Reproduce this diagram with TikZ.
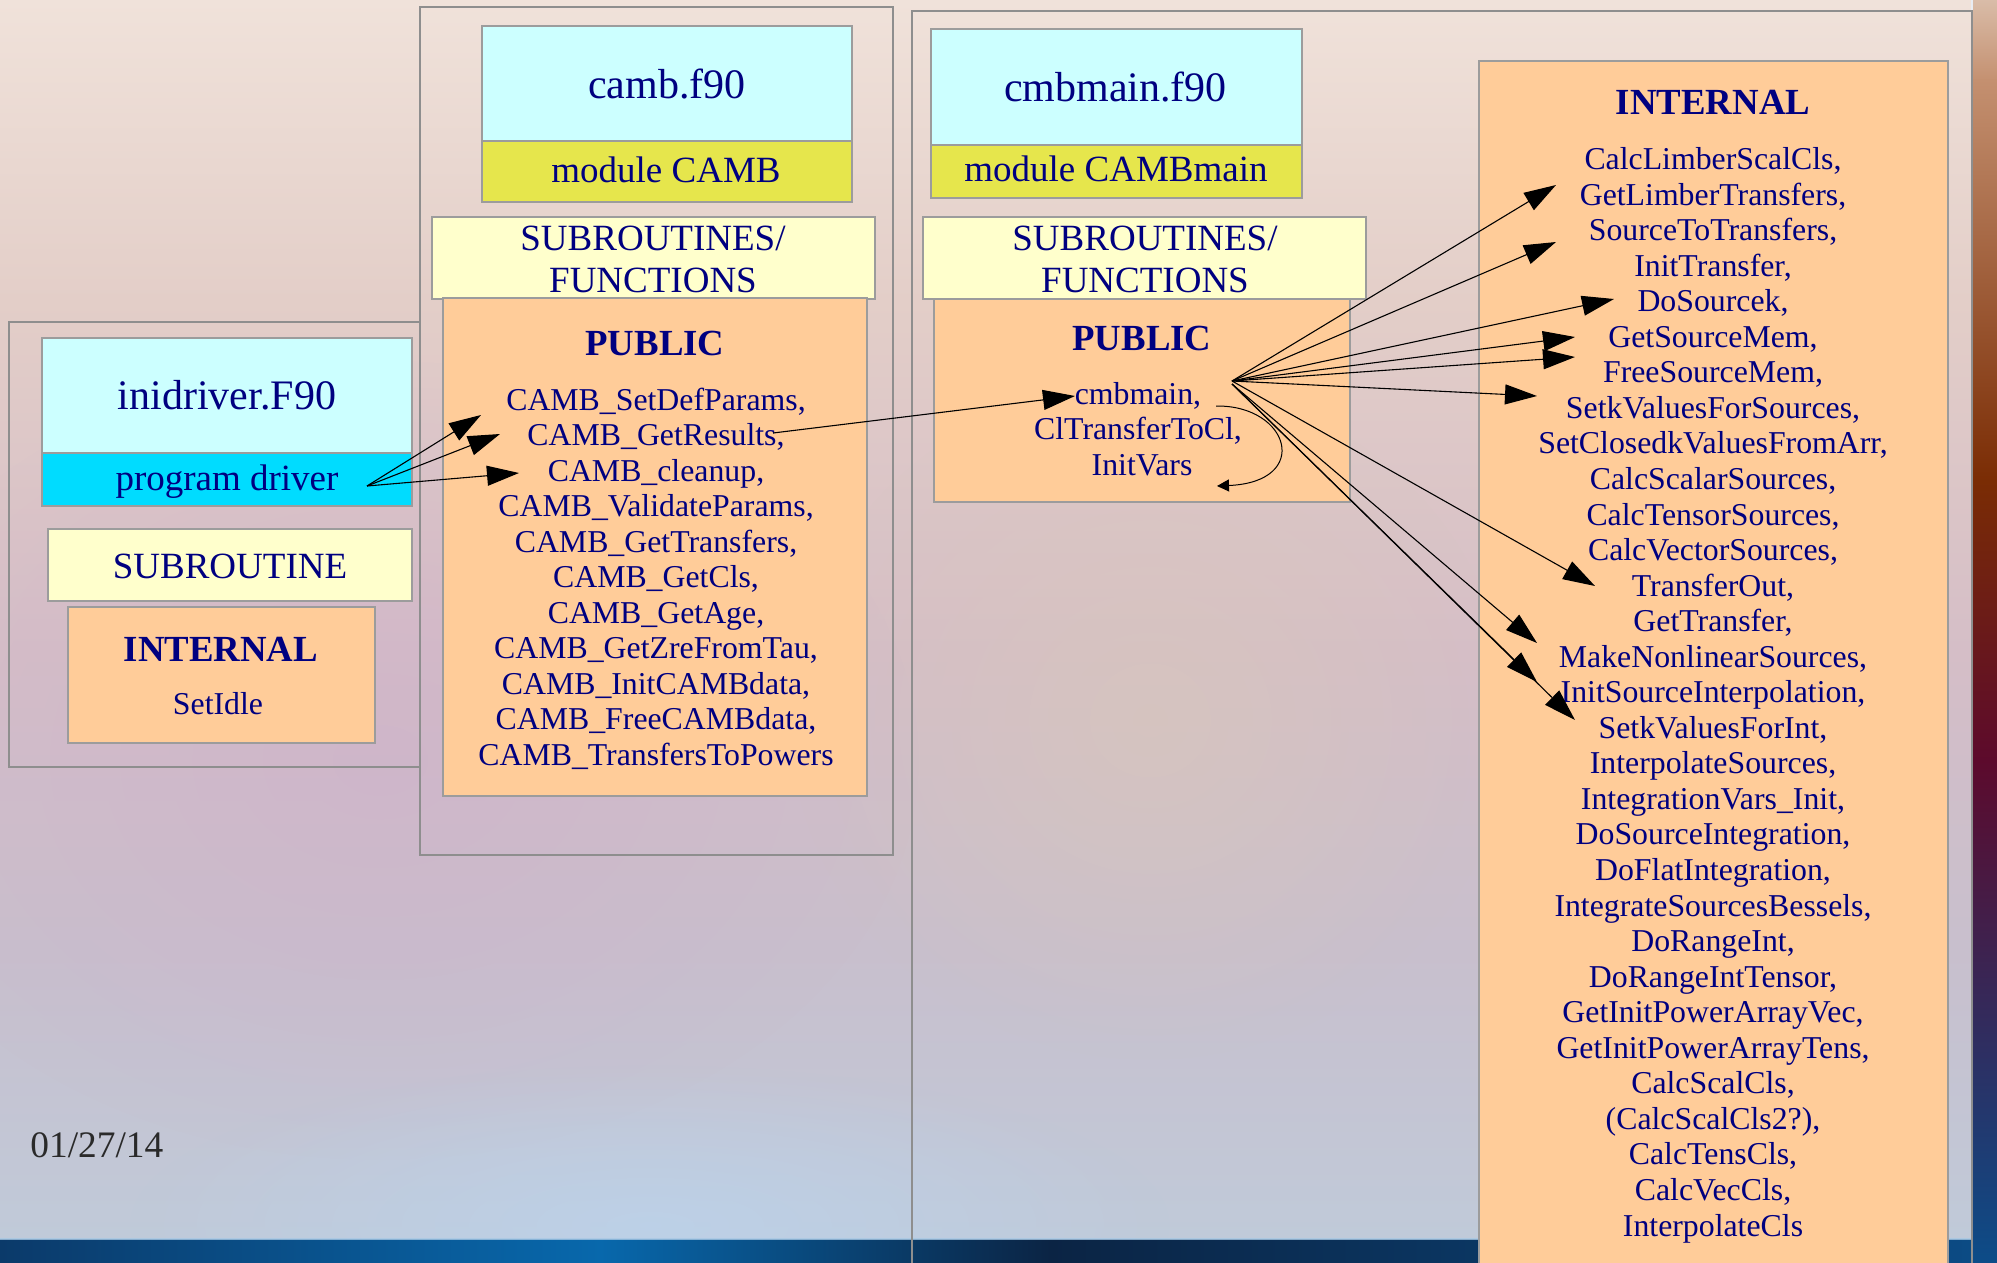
\documentclass[tikz,border=0pt]{standalone}
\usepackage{fontspec}
\setmainfont{Liberation Serif}
\usetikzlibrary{arrows.meta,fadings}

\definecolor{navy}{HTML}{000080}
\definecolor{lightcyan}{HTML}{CCFFFF}
\definecolor{drivercyan}{HTML}{00DCFF}
\definecolor{modyellow}{HTML}{E6E64C}
\definecolor{paleyellow}{HTML}{FFFFCC}
\definecolor{peach}{HTML}{FFCC99}
\definecolor{boxedge}{HTML}{9C9C9C}
\definecolor{frameedge}{HTML}{8E8E8E}
\definecolor{bgA}{HTML}{F0E2DA}
\definecolor{bgB}{HTML}{E3CEC8}
\definecolor{bgC}{HTML}{D5BEC7}
\definecolor{bgD}{HTML}{C8BFCD}
\definecolor{bgE}{HTML}{C0CAD9}
\definecolor{datecol}{HTML}{2A2A2A}

\tikzfading[name=softglow, inner color=transparent!0, outer color=transparent!100]

\tikzset{
  box/.style={draw=boxedge, line width=0.7pt, inner sep=0pt},
  frame/.style={draw=frameedge, line width=0.7pt, inner sep=0pt},
  ttl/.style={font=\fontsize{21}{24}\selectfont, text=navy, inner sep=0pt, anchor=base},
  sub/.style={font=\fontsize{18.5}{21}\selectfont, text=navy, inner sep=0pt, anchor=base},
  hdr/.style={font=\fontsize{18.4}{21}\selectfont\bfseries, text=navy, inner sep=0pt, anchor=base},
  item/.style={font=\fontsize{15.9}{17.75}\selectfont, text=navy, inner sep=0pt, anchor=base},
  conn/.style={draw=black, line width=0.55pt, -{Triangle[length=16pt,width=10pt]}},
  selfcall/.style={draw=black, line width=0.5pt, -{Triangle[length=6pt,width=6pt]}},
}

\begin{document}
\begin{tikzpicture}[x=0.5pt, y=-0.5pt]
\useasboundingbox (0,0) rectangle (1997,1263);
\clip (0,0) rectangle (1997,1263);

% slide background, in horizontal bands of vertical gradient
\shade[top color=bgA, bottom color=bgB] (0,0) rectangle (1973,301);
\shade[top color=bgB, bottom color=bgC] (0,300) rectangle (1973,651);
\shade[top color=bgC, bottom color=bgD] (0,650) rectangle (1973,951);
\shade[top color=bgD, bottom color=bgE] (0,950) rectangle (1973,1240);
\fill[color={rgb,255:red,206;green,176;blue,202}, opacity=0.55, path fading=softglow]
  (380,760) ellipse [x radius=270pt, y radius=200pt];
\fill[color={rgb,255:red,216;green,200;blue,186}, opacity=0.6, path fading=softglow]
  (1150,720) ellipse [x radius=180pt, y radius=170pt];
\fill[color={rgb,255:red,188;green,210;blue,234}, opacity=0.85, path fading=softglow]
  (650,1225) ellipse [x radius=260pt, y radius=80pt];

% bottom band
\shade[left color={rgb,255:red,11;green,58;blue,106}, right color={rgb,255:red,8;green,104;blue,172}] (0,1239) rectangle (601,1263);
\shade[left color={rgb,255:red,8;green,104;blue,172}, right color={rgb,255:red,11;green,36;blue,68}] (600,1239) rectangle (1051,1263);
\shade[left color={rgb,255:red,11;green,36;blue,68}, right color={rgb,255:red,12;green,76;blue,134}] (1050,1239) rectangle (1997,1263);
\draw[color={rgb,255:red,168;green,200;blue,228}, line width=0.8pt, opacity=0.8] (0,1239) -- (1973,1239);

% right edge strip
\shade[top color={rgb,255:red,217;green,188;blue,168}, bottom color={rgb,255:red,196;green,144;blue,112}] (1973,0) rectangle (1997,81);
\shade[top color={rgb,255:red,196;green,144;blue,112}, bottom color={rgb,255:red,122;green,44;blue,4}] (1973,80) rectangle (1997,481);
\shade[top color={rgb,255:red,122;green,44;blue,4}, bottom color={rgb,255:red,92;green,10;blue,44}] (1973,480) rectangle (1997,761);
\shade[top color={rgb,255:red,92;green,10;blue,44}, bottom color={rgb,255:red,44;green,48;blue,100}] (1973,760) rectangle (1997,1061);
\shade[top color={rgb,255:red,44;green,48;blue,100}, bottom color={rgb,255:red,12;green,76;blue,136}] (1973,1060) rectangle (1997,1263);
\draw[color={rgb,255:red,232;green,236;blue,242}, line width=1pt] (1972,0) -- (1972,1239);

% ---------- inidriver.F90 ----------
\node[frame, minimum width=205.5pt, minimum height=222.5pt] (drvframe) at (214.5,544.5) {};
\node[box, fill=lightcyan, minimum width=185pt, minimum height=57.5pt] (drvtitle) at (227,395.5) {};
\node[box, fill=drivercyan, minimum width=185pt, minimum height=26.5pt] (drvprog) at (227,479.5) {};
\node[box, fill=paleyellow, minimum width=182pt, minimum height=36pt] (drvsub) at (230,565) {};
\node[box, fill=peach, minimum width=153.5pt, minimum height=68pt] (drvint) at (221.5,675) {};
\node[ttl] (drvname) at (227,409) {inidriver.F90};
\node[sub] (drvkind) at (227,490) {program driver};
\node[sub] (drvsubtxt) at (230,578) {SUBROUTINE};
\node[hdr] (drvinthdr) at (221,661) {INTERNAL};
\node[item] (setidle) at (218,714) {SetIdle};

% ---------- camb.f90 ----------
\node[frame, minimum width=236.5pt, minimum height=424pt] (cambframe) at (656.5,431) {};
\node[box, fill=lightcyan, minimum width=185pt, minimum height=57.5pt] (cambtitle) at (667,83.5) {};
\node[box, fill=modyellow, minimum width=185pt, minimum height=30.5pt] (cambmod) at (667,171.5) {};
\node[box, fill=paleyellow, minimum width=221.5pt, minimum height=41pt] (cambsub) at (653.5,258) {};
\node[box, fill=peach, minimum width=212pt, minimum height=249pt] (cambpub) at (655,547) {};
\node[ttl] (cambname) at (667,98) {camb.f90};
\node[sub] (cambmodtxt) at (666,183) {module CAMB};
\node[sub] (cambsub1) at (653,250) {SUBROUTINES/};
\node[sub] (cambsub2) at (653,292) {FUNCTIONS};
\node[hdr] (cambpubhdr) at (655,355) {PUBLIC};
\foreach \t [count=\i from 0] in {{CAMB\_SetDefParams,},{CAMB\_GetResults,},{CAMB\_cleanup,},
  {CAMB\_ValidateParams,},{CAMB\_GetTransfers,},{CAMB\_GetCls,},{CAMB\_GetAge,},
  {CAMB\_GetZreFromTau,},{CAMB\_InitCAMBdata,},{CAMB\_FreeCAMBdata,},{CAMB\_TransfersToPowers}}
  \node[item] (camb\i) at (656,{410+35.5*\i}) {\t};

% ---------- cmbmain.f90 ----------
\node[frame, minimum width=530pt, minimum height=644.5pt] (mainframe) at (1442,655.5) {};
\node[box, fill=lightcyan, minimum width=185.5pt, minimum height=58pt] (maintitle) at (1116.5,87) {};
\node[box, fill=modyellow, minimum width=185.5pt, minimum height=26.5pt] (mainmod) at (1116.5,171.5) {};
\node[box, fill=paleyellow, minimum width=221.5pt, minimum height=41pt] (mainsub) at (1144.5,258) {};
\node[box, fill=peach, minimum width=208pt, minimum height=101.5pt] (mainpub) at (1142,400.5) {};
\node[ttl] (mainname) at (1115.5,102) {cmbmain.f90};
\node[sub] (mainmodtxt) at (1116,182) {module CAMBmain};
\node[sub] (mainsub1) at (1145,250) {SUBROUTINES/};
\node[sub] (mainsub2) at (1145,292) {FUNCTIONS};
\node[hdr] (mainpubhdr) at (1142,350) {PUBLIC};
\node[item] (cmbmain) at (1138,404) {cmbmain,};
\node[item] (cltocl) at (1138,439.5) {ClTransferToCl,};
\node[item] (initvars) at (1142,475) {InitVars};

% ---------- internal routines of cmbmain ----------
\node[box, fill=peach, minimum width=234.5pt, minimum height=619.5pt] (intbox) at (1713.5,680.5) {};
\node[hdr] (inthdr) at (1713,115) {INTERNAL};
\foreach \t [count=\i from 0] in {{CalcLimberScalCls,},{GetLimberTransfers,},{SourceToTransfers,},
  {InitTransfer,},{DoSourcek,},{GetSourceMem,},{FreeSourceMem,},{SetkValuesForSources,},
  {SetClosedkValuesFromArr,},{CalcScalarSources,},{CalcTensorSources,},{CalcVectorSources,},
  {TransferOut,},{GetTransfer,},{MakeNonlinearSources,},{InitSourceInterpolation,},
  {SetkValuesForInt,},{InterpolateSources,},{IntegrationVars\_Init,},{DoSourceIntegration,},
  {DoFlatIntegration,},{IntegrateSourcesBessels,},{DoRangeInt,},{DoRangeIntTensor,},
  {GetInitPowerArrayVec,},{GetInitPowerArrayTens,},{CalcScalCls,},{(CalcScalCls2?),},
  {CalcTensCls,},{CalcVecCls,},{InterpolateCls}}
  \node[item] (int\i) at (1713,{169.5+35.55*\i}) {\t};

% date
\node[font=\fontsize{18.7}{21}\selectfont, text=datecol, inner sep=0pt, anchor=base west] (date) at (30,1157) {01/27/14};

% ---------- calls ----------
\coordinate (drvsrc) at (367,486);
\coordinate (tipA) at (481,415);
\coordinate (tipB) at (500,434);
\coordinate (tipC) at (519,473);
\draw[conn] (drvsrc) -- (tipA);
\draw[conn] (drvsrc) -- (tipB);
\draw[conn] (drvsrc) -- (tipC);

\coordinate (grsrc) at (773,433);
\coordinate (cmbtip) at (1075,396);
\draw[conn] (grsrc) -- (cmbtip);

\coordinate (fan) at (1232,381);
\coordinate (fanlow) at (1232,384);
\foreach \tx/\ty in {1556/185, 1556/242, 1614/299, 1575/337, 1575/357, 1537/396, 1595/586}
  \draw[conn] (fan) -- (\tx,\ty);
\foreach \tx/\ty in {1537/643, 1537/682, 1575/720}
  \draw[conn] (fanlow) -- (\tx,\ty);

\coordinate (selfa) at (1216,406);
\coordinate (selfb) at (1217,486);
\draw[selfcall] (selfa) .. controls (1290,405) and (1312,482) .. (selfb);

\end{tikzpicture}
\end{document}
